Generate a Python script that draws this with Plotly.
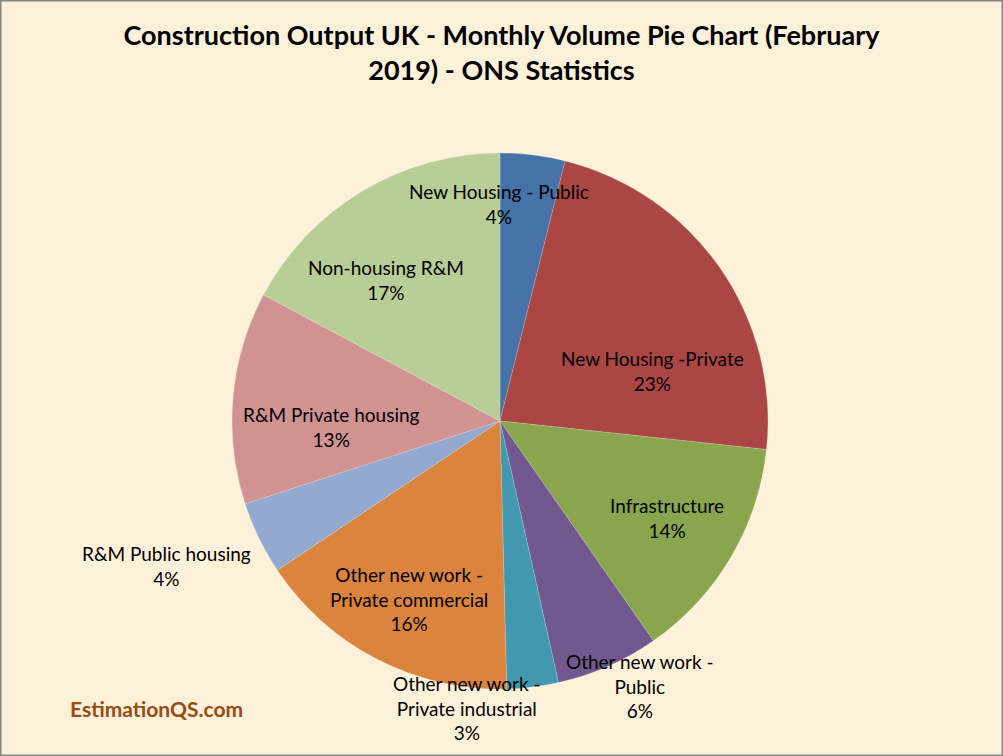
import plotly.graph_objects as go

# share of monthly output, Feb 2019 (%), clockwise from 12 o'clock
categories = [
    'New Housing - Public',
    'New Housing -Private',
    'Infrastructure',
    'Other new work - Public',
    'Other new work - Private industrial',
    'Other new work - Private commercial',
    'R&M Public housing',
    'R&M Private housing',
    'Non-housing R&M',
]
values = [3.9, 22.8, 13.6, 6.2, 3.1, 16.0, 4.4, 12.8, 17.2]

# how each label is broken over lines on the chart
label_text = [
    'New Housing - Public',
    'New Housing -Private',
    'Infrastructure',
    'Other new work -<br>Public',
    'Other new work -<br>Private industrial',
    'Other new work -<br>Private commercial',
    'R&M Public housing',
    'R&M Private housing',
    'Non-housing R&M',
]

colors = ['#4572A7', '#AA4643', '#89A54E', '#71588F', '#4198AF',
          '#DB843D', '#93A9CF', '#D19392', '#B9CD96']

# label centres in pixels (x, y from top), as placed in the original
label_pos = [(499, 204), (652, 371), (667, 518), (640, 686), (467, 708),
             (409, 599), (166, 566), (331, 427), (386, 280)]

W, H = 1003, 756

fig = go.Figure(go.Pie(
    labels=categories,
    values=values,
    sort=False,
    direction='clockwise',
    rotation=0,
    marker=dict(colors=colors, line=dict(color='rgba(255,255,255,0.35)', width=0.5)),
    textinfo='none',
    hoverinfo='label+percent',
    showlegend=False,
    domain=dict(x=[232 / W, 768 / W], y=[1 - 689 / H, 1 - 153 / H]),
))

total = sum(values)
for txt, v, (px_, py_) in zip(label_text, values, label_pos):
    fig.add_annotation(
        x=px_ / W, y=1 - py_ / H, xref='paper', yref='paper',
        xanchor='center', yanchor='middle',
        text=f'{txt}<br>{round(v / total * 100)}%',
        showarrow=False, align='center',
        font=dict(family='Lato', size=19, color='#000000'),
    )

fig.add_annotation(
    x=156 / W, y=1 - 708 / H, xref='paper', yref='paper',
    xanchor='center', yanchor='middle',
    text='<b>EstimationQS.com</b>', showarrow=False,
    font=dict(family='Lato', size=21, color='#9C4A10'),
)

fig.add_shape(type='rect', xref='paper', yref='paper', x0=0, y0=0, x1=1, y1=1,
              line=dict(color='#858585', width=3))

fig.update_layout(
    width=W, height=H,
    margin=dict(l=0, r=0, t=0, b=0),
    paper_bgcolor='#FDF1D9',
    title=dict(
        text='<b>Construction Output UK - Monthly Volume Pie Chart (February<br>2019) - ONS Statistics</b>',
        x=0.5, xanchor='center', y=1 - 45 / H, yanchor='middle',
        font=dict(family='Lato', size=27, color='#000000'),
    ),
)

# page body has a default 8px margin; drop it so the chart fills the window
fig.write_html('out.html', config={'displayModeBar': False},
               post_script="document.body.style.margin='0px';")
